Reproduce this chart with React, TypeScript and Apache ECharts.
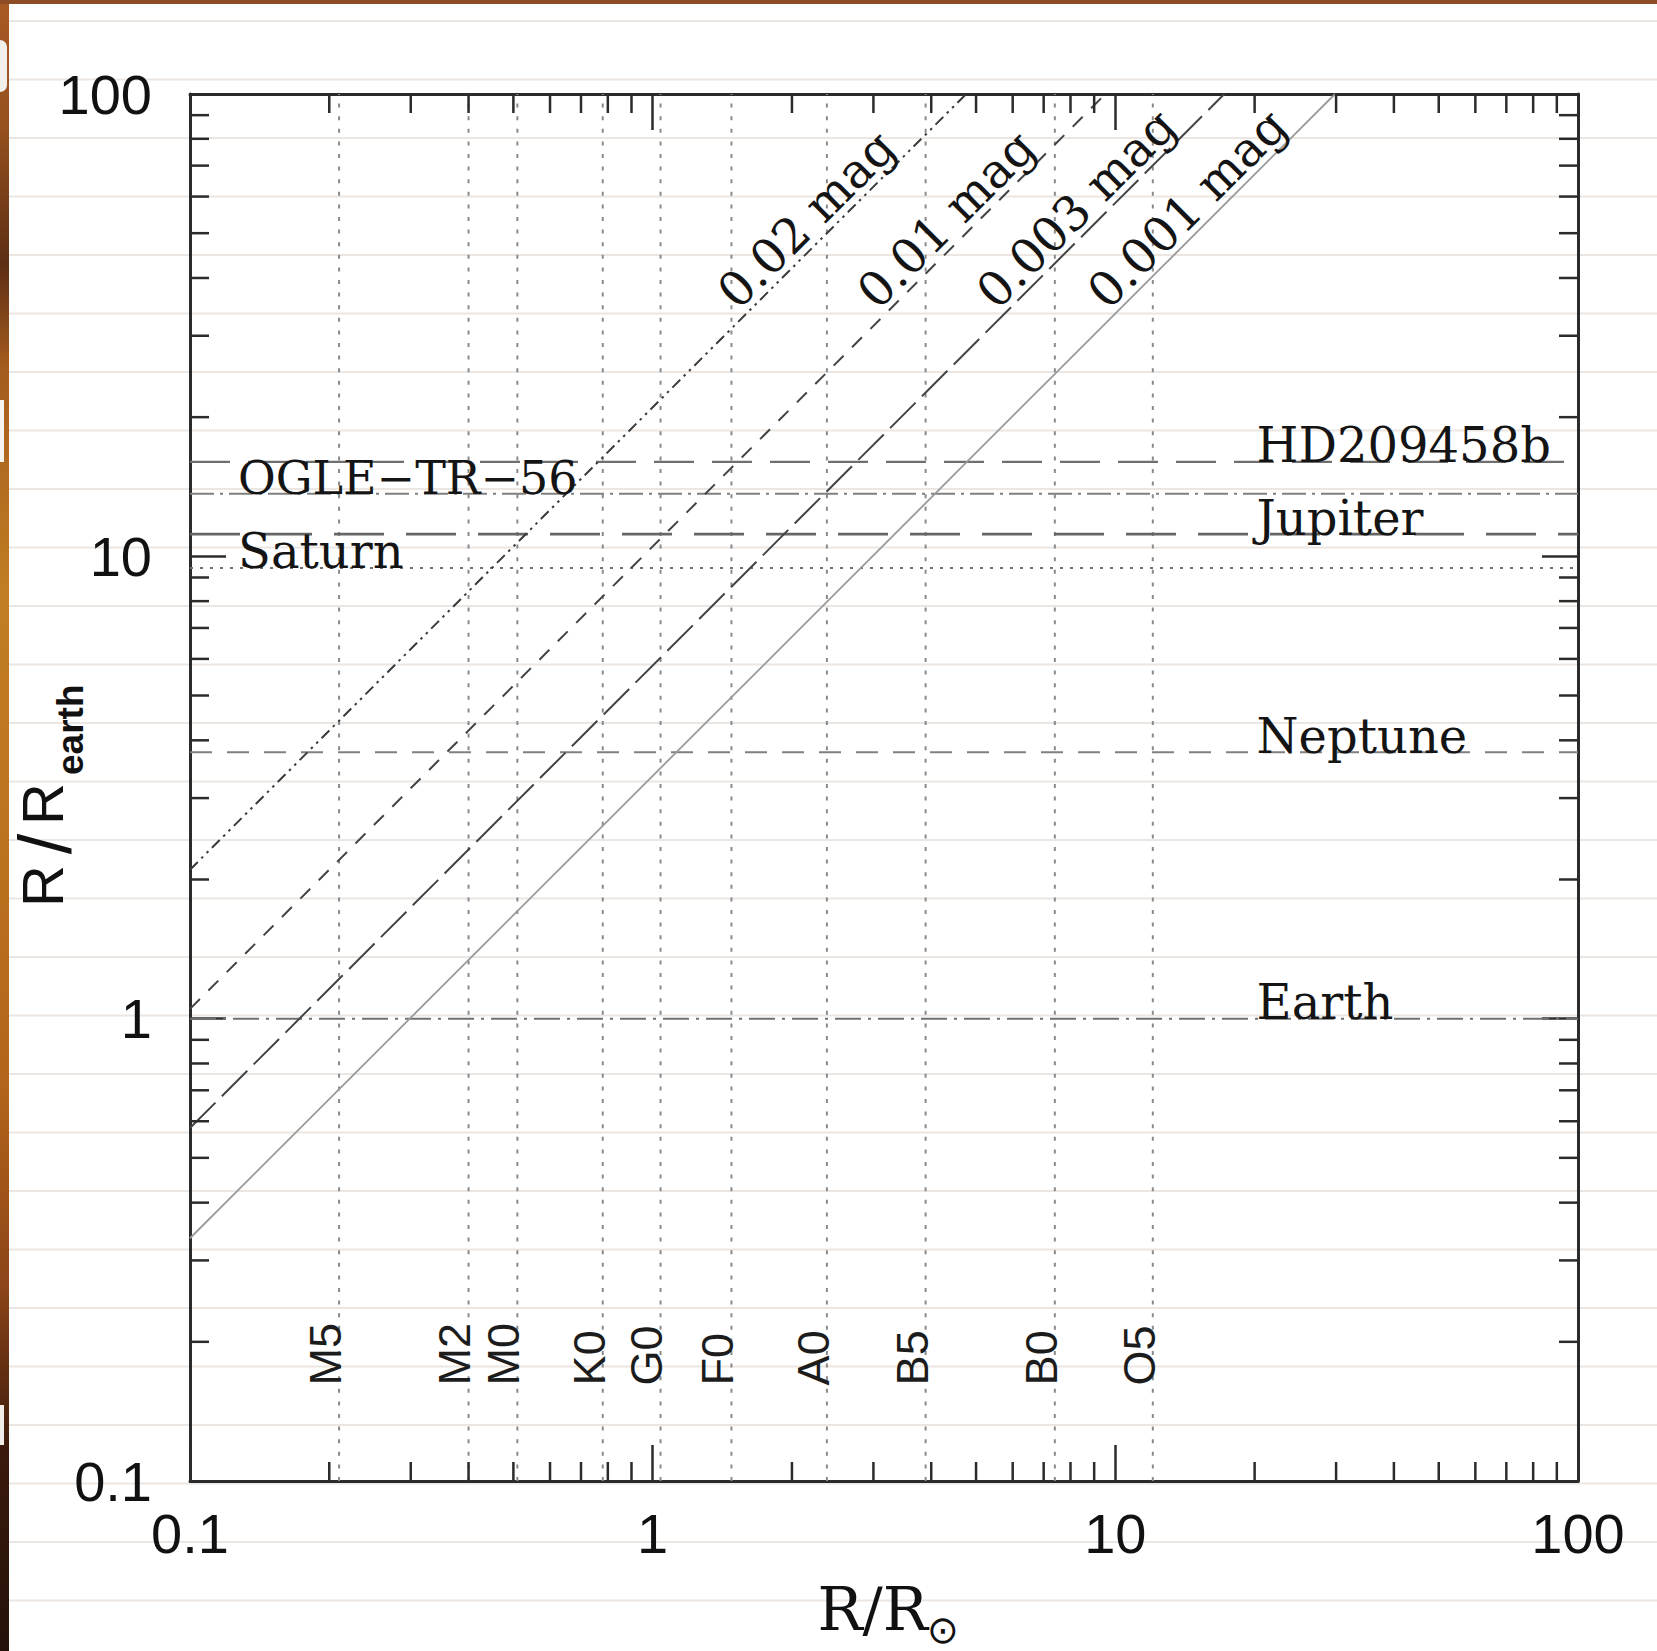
import React, { useEffect, useRef } from "react";
import * as echarts from "echarts";

const WIDTH = 1657;
const HEIGHT = 1651;

// axis ticks (R/Rsun and R/Rearth share the same decades)
const decadeTicks = [0.1, 1, 10, 100];
const minorTicks = [0.2, 0.3, 0.4, 0.5, 0.6, 0.7, 0.8, 0.9, 2, 3, 4, 5, 6, 7, 8, 9, 20, 30, 40, 50, 60, 70, 80, 90];

// stellar spectral types (vertical dotted lines)
const spectralTypes = ["M5", "M2", "M0", "K0", "G0", "F0", "A0", "B5", "B0", "O5"];
const spectralRadii = [0.21, 0.4, 0.51, 0.78, 1.04, 1.48, 2.38, 3.89, 7.4, 12.05];
const spectralLabelBase = 0.161;

// planets (horizontal lines)
const planetNames = ["HD209458b", "OGLE\u2212TR\u221256", "Jupiter", "Saturn", "Neptune", "Earth"];
const planetRadii = [16.0, 13.65, 11.17, 9.44, 3.77, 1.0];
const planetLabelAt = [20.2, 0.127, 20.2, 0.127, 20.2, 20.2];

// transit depth lines (diagonals)
const depthNames = ["0.02 mag", "0.01 mag", "0.003 mag", "0.001 mag"];
const depthStartRstar = [0.1, 0.1, 0.1, 0.1];
const depthStartRplanet = [2.1, 1.05, 0.58, 0.335];
const depthEndRstar = [4.76, 9.52, 17.2, 29.85];
const depthEndRplanet = [100, 100, 100, 100];
const depthLabelAt = [1.57, 3.15, 5.7, 9.9];
const depthLabelHeight = 33;

// styles (kept apart from data)
const planetStyles = [
  { type: [40, 18], color: "#6f6f6f", width: 2.2 },
  { type: [24, 6, 3, 6], color: "#808080", width: 2 },
  { type: [50, 22], color: "#666666", width: 2.8 },
  { type: [3, 7], color: "#707070", width: 2 },
  { type: [22, 15], color: "#808080", width: 2 },
  { type: [26, 7, 3, 7], color: "#707070", width: 2 },
];
const planetLabelSizes = [48, 46, 48, 48, 48, 48];
const depthStyles = [
  { type: [11, 5, 2.5, 5, 2.5, 5], color: "#3a3a3a", width: 2 },
  { type: [14, 12], color: "#444444", width: 2 },
  { type: [36, 9], color: "#444444", width: 2 },
  { type: "solid", color: "#9a9a9a", width: 1.8 },
];

const SERIF = '"DejaVu Serif", "Liberation Serif", serif';
const SANS = '"Liberation Sans", Arial, sans-serif';
const LABEL_SIZE = 48;
const MAJOR = 36;
const MINOR = 19;
const AX = "#2b2b2b";

function makeAxis(position: string, showLabel: boolean, isX: boolean) {
  return {
    type: "log",
    logBase: 10,
    min: decadeTicks[0],
    max: decadeTicks[decadeTicks.length - 1],
    position,
    gridIndex: 0,
    axisLine: { show: true, onZero: false, lineStyle: { color: AX, width: 3 } },
    axisTick: { show: true, inside: true, length: MAJOR, lineStyle: { color: AX, width: 2.5 } },
    axisLabel: {
      show: showLabel,
      margin: isX ? 24 : 38,
      fontFamily: SANS,
      fontSize: 56,
      color: "#111",
      formatter: (v: number) => String(decadeTicks.find((d) => Math.abs(d - v) / d < 1e-6) ?? v),
    },
    splitLine: { show: false },
    minorTick: { show: false },
    minorSplitLine: { show: false },
  };
}

export default function App() {
  const ref = useRef<HTMLDivElement>(null);

  useEffect(() => {
    const el = ref.current;
    if (!el) return;
    const chart = echarts.init(el, null, { renderer: "svg" });

    const series: any[] = [];

    // spectral type dotted verticals
    spectralRadii.forEach((r, i) => {
      series.push({
        type: "line",
        name: spectralTypes[i],
        data: [[r, decadeTicks[0]], [r, decadeTicks[3]]],
        symbol: "none",
        silent: true,
        z: 2,
        lineStyle: { type: [4, 8.6], color: "#8a8a8a", width: 2 },
      });
    });

    // planet horizontals
    planetRadii.forEach((r, i) => {
      series.push({
        type: "line",
        name: planetNames[i],
        data: [[decadeTicks[0], r], [decadeTicks[3], r]],
        symbol: "none",
        silent: true,
        z: 3,
        lineStyle: planetStyles[i],
      });
    });

    // transit depth diagonals
    depthNames.forEach((n, i) => {
      series.push({
        type: "line",
        name: n,
        data: [
          [depthStartRstar[i], depthStartRplanet[i]],
          [depthEndRstar[i], depthEndRplanet[i]],
        ],
        symbol: "none",
        silent: true,
        z: 4,
        lineStyle: depthStyles[i],
      });
    });

    // minor ticks on all four sides
    series.push({
      type: "custom",
      name: "minorTicks",
      silent: true,
      z: 6,
      data: minorTicks.map((v) => [v, v]),
      renderItem: (params: any, api: any) => {
        const v = api.value(0);
        const cs = params.coordSys;
        const p = api.coord([v, v]);
        const s = { stroke: AX, lineWidth: 2.5 };
        const b = cs.y + cs.height;
        const r = cs.x + cs.width;
        return {
          type: "group",
          children: [
            { type: "line", shape: { x1: p[0], y1: b, x2: p[0], y2: b - MINOR }, style: s },
            { type: "line", shape: { x1: p[0], y1: cs.y, x2: p[0], y2: cs.y + MINOR }, style: s },
            { type: "line", shape: { x1: cs.x, y1: p[1], x2: cs.x + MINOR, y2: p[1] }, style: s },
            { type: "line", shape: { x1: r, y1: p[1], x2: r - MINOR, y2: p[1] }, style: s },
          ],
        };
      },
    });

    // planet labels
    series.push({
      type: "custom",
      name: "planetLabels",
      silent: true,
      z: 7,
      data: planetLabelAt.map((x, i) => [x, planetRadii[i]]),
      renderItem: (params: any, api: any) => {
        const p = api.coord([api.value(0), api.value(1)]);
        const fs = planetLabelSizes[params.dataIndex];
        return {
          type: "text",
          x: p[0],
          y: p[1] - 0.346 * fs,
          style: {
            text: planetNames[params.dataIndex],
            fontSize: fs,
            fontFamily: SERIF,
            fill: "#141414",
            align: "left",
            verticalAlign: "middle",
          },
        };
      },
    });

    // spectral labels (rotated)
    series.push({
      type: "custom",
      name: "spectralLabels",
      silent: true,
      z: 7,
      data: spectralRadii.map((r) => [r, spectralLabelBase]),
      renderItem: (params: any, api: any) => {
        const p = api.coord([api.value(0), api.value(1)]);
        return {
          type: "text",
          x: p[0],
          y: p[1],
          rotation: Math.PI / 2,
          style: {
            text: spectralTypes[params.dataIndex],
            x: 0,
            y: -13.6,
            fontSize: 45,
            fontFamily: SANS,
            fill: "#1c1c1c",
            align: "left",
            verticalAlign: "middle",
          },
        };
      },
    });

    // depth labels (45 degrees)
    series.push({
      type: "custom",
      name: "depthLabels",
      silent: true,
      z: 7,
      data: depthLabelAt.map((x) => [x, depthLabelHeight]),
      renderItem: (params: any, api: any) => {
        const p = api.coord([api.value(0), api.value(1)]);
        return {
          type: "text",
          x: p[0],
          y: p[1],
          rotation: Math.PI / 4,
          style: {
            text: depthNames[params.dataIndex],
            x: 0,
            y: -0.346 * LABEL_SIZE - 8,
            fontSize: LABEL_SIZE,
            fontFamily: SERIF,
            fill: "#141414",
            align: "left",
            verticalAlign: "middle",
          },
        };
      },
    });

    // background decoration: faint ruled lines and brown slide edge
    const graphics: any[] = [];
    for (let k = 0; k < 28; k++) {
      const y = 21 + 58.5 * k;
      graphics.push({
        type: "line",
        silent: true,
        z: -10,
        shape: { x1: 0, y1: y, x2: WIDTH, y2: y },
        style: { stroke: "#ebe6e1", lineWidth: 2 },
      });
    }
    graphics.push({
      type: "rect",
      silent: true,
      z: -5,
      shape: { x: 0, y: 0, width: 9, height: HEIGHT },
      style: {
        fill: new echarts.graphic.LinearGradient(0, 0, 0, 1, [
          { offset: 0, color: "#a85a24" },
          { offset: 0.08, color: "#94501e" },
          { offset: 0.16, color: "#5c2e14" },
          { offset: 0.22, color: "#a35a1e" },
          { offset: 0.36, color: "#c27e22" },
          { offset: 0.5, color: "#bb7420" },
          { offset: 0.66, color: "#b2641a" },
          { offset: 0.78, color: "#8c4418" },
          { offset: 0.88, color: "#3a1a0c" },
          { offset: 1, color: "#24120a" },
        ]),
      },
    });
    graphics.push({
      type: "rect",
      silent: true,
      z: -5,
      shape: { x: 0, y: 0, width: WIDTH, height: 4 },
      style: { fill: "#8e4c24" },
    });
    graphics.push({
      type: "rect",
      silent: true,
      z: -4,
      shape: { x: 0, y: 40, width: 7, height: 52, r: [0, 26, 26, 0] },
      style: { fill: "#f3efeb" },
    });
    graphics.push({
      type: "rect",
      silent: true,
      z: -4,
      shape: { x: 0, y: 400, width: 4, height: 62 },
      style: { fill: "#f6f3f0" },
    });
    graphics.push({
      type: "rect",
      silent: true,
      z: -4,
      shape: { x: 0, y: 1405, width: 4, height: 40 },
      style: { fill: "#f0ece8" },
    });

    // y axis title: R/R_earth, read bottom to top
    graphics.push({
      type: "group",
      x: 63,
      y: 907,
      rotation: Math.PI / 2,
      children: [
        {
          type: "text",
          x: 0,
          y: -20.1,
          style: { text: "R", fontSize: 58, fontFamily: SANS, fill: "#111", align: "left", verticalAlign: "middle" },
        },
        {
          type: "text",
          x: 63,
          y: -18,
          style: { text: "/", fontSize: 74, fontFamily: SANS, fill: "#111", align: "center", verticalAlign: "middle" },
        },
        {
          type: "text",
          x: 82,
          y: -20.1,
          style: { text: "R", fontSize: 58, fontFamily: SANS, fill: "#111", align: "left", verticalAlign: "middle" },
        },
        {
          type: "text",
          x: 132,
          y: 7.2,
          style: { text: "earth", fontSize: 37, fontWeight: "bold", fontFamily: SANS, fill: "#111", align: "left", verticalAlign: "middle" },
        },
      ],
    });
    // x axis title: R/R_sun
    graphics.push({
      type: "text",
      x: 928,
      y: 1609,
      style: { text: "R/R", fontSize: 60, fontFamily: SERIF, fill: "#111", align: "right", verticalAlign: "middle" },
    });
    graphics.push({
      type: "text",
      x: 943,
      y: 1630,
      style: { text: "\u2299", fontSize: 38, fontFamily: '"DejaVu Sans", sans-serif', fill: "#111", align: "center", verticalAlign: "middle" },
    });

    const option: any = {
      animation: false,
      backgroundColor: "#ffffff",
      grid: { left: 190, top: 94, width: 1388, height: 1387, containLabel: false },
      xAxis: [makeAxis("bottom", true, true), makeAxis("top", false, true)],
      yAxis: [makeAxis("left", true, false), makeAxis("right", false, false)],
      series: series.map((s) => ({ xAxisIndex: 0, yAxisIndex: 0, ...s })),
      graphic: { elements: graphics },
    };

    chart.setOption(option);
    return () => chart.dispose();
  }, []);

  return (
    <div
      ref={ref}
      style={{ position: "fixed", left: 0, top: 0, width: WIDTH, height: HEIGHT, background: "#fff" }}
    />
  );
}
